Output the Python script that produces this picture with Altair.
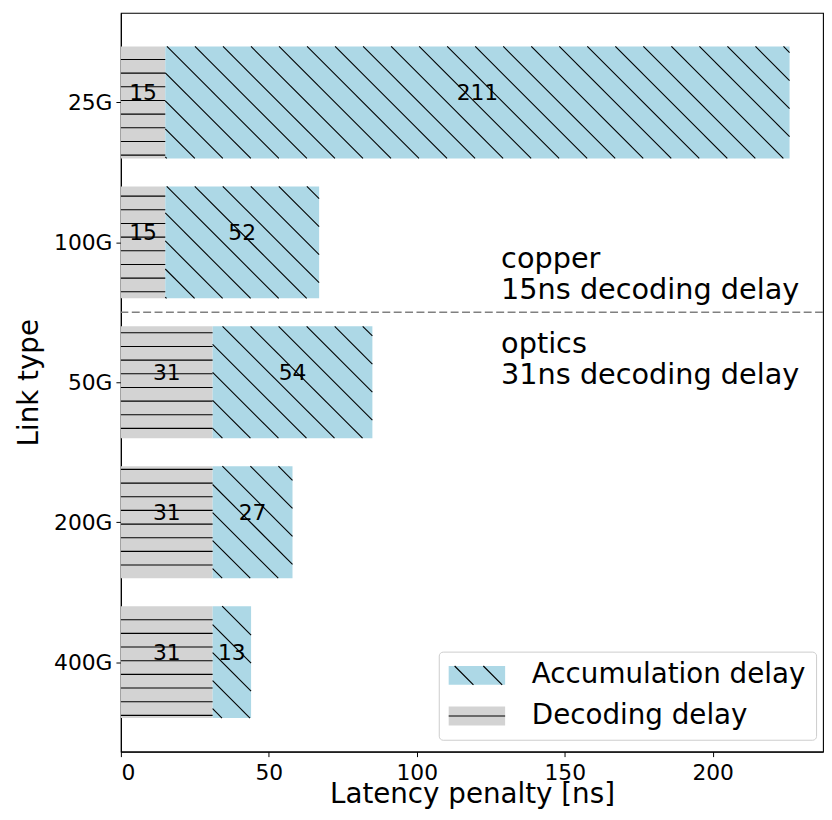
import math
import altair as alt
import pandas as pd

# ---------------- data ----------------
links = ["25G", "100G", "50G", "200G", "400G"]
decoding = [15, 15, 31, 31, 31]
accumulation = [211, 52, 54, 27, 13]
kinds = ["Accumulation delay", "Decoding delay"]
x_ticks = [0, 50, 100, 150, 200]
notes = ["copper", "15ns decoding delay", "optics", "31ns decoding delay"]
note_x = [128.5, 128.5, 128.5, 128.5]
note_y = [1.18, 1.405, 1.79, 2.01]
separator_between = [1, 2]  # dashed line between 100G (copper) and 50G (optics)

# ---------------- layout / style ----------------
FONT = "DejaVu Sans"
W, H = 709, 746
BAR_HALF = 0.4
totals = [d + a for d, a in zip(decoding, accumulation)]
X_MAX = 1.05 * max(totals)
span = (len(links) - 1) + 2 * BAR_HALF
Y_LO = -BAR_HALF - 0.05 * span
Y_HI = (len(links) - 1) + BAR_HALF + 0.05 * span
PX_X = W / X_MAX
PX_Y = H / (Y_HI - Y_LO)

C_ACC = "#add8e6"
C_DEC = "#d3d3d3"

# hatch geometry (pixels)
H_STEP, H_PHASE = 13.8, 5.6
D_STEP, D_PHASE = 28.3, 12.6

# ---------------- tables ----------------
bars = []
labels = []
for i, (lk, d, a) in enumerate(zip(links, decoding, accumulation)):
    bars.append(dict(link=lk, pos=i, kind=kinds[1], start=0, end=d))
    bars.append(dict(link=lk, pos=i, kind=kinds[0], start=d, end=d + a))
    labels.append(dict(pos=i, mid=d / 2, txt=str(d)))
    labels.append(dict(pos=i, mid=d + a / 2, txt=str(a)))
bars = pd.DataFrame(bars)
bars["y0"] = bars["pos"] - BAR_HALF
bars["y1"] = bars["pos"] + BAR_HALF
labels = pd.DataFrame(labels)

hatch = []
for i, (d, a) in enumerate(zip(decoding, accumulation)):
    top = (i - BAR_HALF - Y_LO) * PX_Y
    bot = (i + BAR_HALF - Y_LO) * PX_Y
    k = math.ceil((top - H_PHASE) / H_STEP)
    p = H_PHASE + k * H_STEP
    while p < bot - 0.5:
        if p > top + 0.5:
            yy = Y_LO + p / PX_Y
            hatch.append(dict(x=0, x2=d, y=yy, y2=yy, hatch=kinds[1]))
        p += H_STEP
    xa, xb = d * PX_X, (d + a) * PX_X
    cmin, cmax = xa - bot, xb - top
    k = math.ceil((cmin - D_PHASE) / D_STEP)
    c = D_PHASE + k * D_STEP
    while c <= cmax:
        x1 = max(xa, top + c)
        x2 = min(xb, bot + c)
        if x2 - x1 > 1:
            hatch.append(dict(x=x1 / PX_X, x2=x2 / PX_X,
                              y=Y_LO + (x1 - c) / PX_Y, y2=Y_LO + (x2 - c) / PX_Y,
                              hatch=kinds[0]))
        c += D_STEP
hatch = pd.DataFrame(hatch)

notes_df = pd.DataFrame(dict(x=note_x, y=note_y, txt=notes))
sep_df = pd.DataFrame(dict(y=[sum(separator_between) / 2]))

# ---------------- scales & axes ----------------
XS = alt.Scale(domain=[0, X_MAX], nice=False, zero=False)
YS = alt.Scale(domain=[Y_LO, Y_HI], nice=False, zero=False, reverse=True)
label_list = "[" + ",".join("'%s'" % s for s in links) + "]"
X_AXIS = alt.Axis(values=x_ticks, grid=False, title="Latency penalty [ns]", tickSize=5,
                  labelPadding=6, titlePadding=19, titleBaseline="alphabetic",
                  labelFontSize=22, titleFontSize=28)
Y_AXIS = alt.Axis(values=list(range(len(links))), grid=False, title="Link type",
                  labelExpr=label_list + "[datum.value]", tickSize=5, labelPadding=4,
                  titlePadding=10, labelFontSize=22, titleFontSize=28)

# legend geometry
LEG_PAD = 10
RECT = "M-1.4,-0.95L4.3,-0.95L4.3,0.95L-1.4,0.95Z"
ACC_PATH = "M-0.8,-0.95L1.1,0.95M2.1,-0.95L4.0,0.95"
DEC_PATH = "M-1.4,0L4.3,0"
leg_common = dict(orient="none", legendX=331 - LEG_PAD, legendY=645, title=None,
                  padding=LEG_PAD, symbolSize=400, symbolOffset=0, labelOffset=56,
                  labelFontSize=28, labelFont=FONT, labelLimit=500, rowPadding=13)

fill_legend = alt.Legend(symbolType=RECT, symbolStrokeWidth=0, strokeColor="#cccccc",
                         cornerRadius=4, labelColor="black", zindex=0, **leg_common)
hatch_shape = alt.ExprRef(expr="datum.value === '%s' ? '%s' : '%s'" % (kinds[0], ACC_PATH, DEC_PATH))
hatch_legend = alt.Legend(symbolType=hatch_shape, symbolStrokeWidth=1.2,
                          symbolFillColor="transparent", labelColor="transparent", zindex=1,
                          **leg_common)

# ---------------- layers ----------------
bar_layer = alt.Chart(bars).mark_bar(strokeWidth=0).encode(
    x=alt.X("start:Q", scale=XS, axis=X_AXIS),
    x2="end:Q",
    y=alt.Y("y0:Q", scale=YS, axis=Y_AXIS),
    y2="y1:Q",
    fill=alt.Fill("kind:N", scale=alt.Scale(domain=kinds, range=[C_ACC, C_DEC]), legend=fill_legend),
)

hatch_layer = alt.Chart(hatch).mark_rule(strokeWidth=1.1).encode(
    x=alt.X("x:Q", scale=XS, axis=X_AXIS),
    x2="x2:Q",
    y=alt.Y("y:Q", scale=YS, axis=Y_AXIS),
    y2="y2:Q",
    stroke=alt.Stroke("hatch:N", scale=alt.Scale(range=["black", "black"]), legend=hatch_legend),
)

label_layer = alt.Chart(labels).mark_text(fontSize=22, font=FONT, color="black",
                                          align="center", baseline="middle", dy=-9).encode(
    x=alt.X("mid:Q", scale=XS, axis=X_AXIS),
    y=alt.Y("pos:Q", scale=YS, axis=Y_AXIS),
    text="txt:N",
)

sep_layer = alt.Chart(sep_df).mark_rule(color="#808080", strokeWidth=1.5, strokeDash=[8, 3.5]).encode(
    y=alt.Y("y:Q", scale=YS, axis=Y_AXIS),
)

note_layer = alt.Chart(notes_df).mark_text(fontSize=29, font=FONT, color="black",
                                           align="left", baseline="alphabetic").encode(
    x=alt.X("x:Q", scale=XS, axis=X_AXIS),
    y=alt.Y("y:Q", scale=YS, axis=Y_AXIS),
    text="txt:N",
)

chart = alt.layer(bar_layer, hatch_layer, label_layer, sep_layer, note_layer).resolve_scale(
    fill="independent", stroke="independent"
).properties(
    width=W, height=H,
    autosize=alt.AutoSizeParams(type="none"),
    padding={"left": 114, "top": 1, "right": 1, "bottom": 57},
).configure_view(
    stroke="black", strokeWidth=1.1
).configure_axis(
    labelFont=FONT, titleFont=FONT, labelColor="black", titleColor="black",
    titleFontWeight="normal", domainColor="black", tickColor="black", domainWidth=1.1,
).configure_legend(
    labelFont=FONT
)

chart.save("out.html", embed_options={"renderer": "svg", "actions": False})
